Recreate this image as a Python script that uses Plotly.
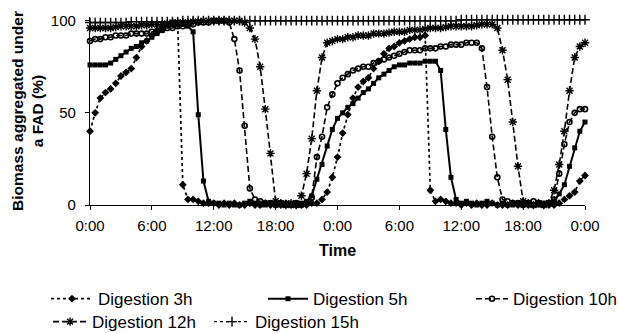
import plotly.graph_objects as go

# time axis: one reading every half hour over 48 h
hours = [i * 0.5 for i in range(97)]
tick_hours = [0, 6, 12, 18, 24, 30, 36, 42, 48]
tick_labels = ["0:00", "6:00", "12:00", "18:00", "0:00", "6:00", "12:00", "18:00", "0:00"]

dig3 = [40, 50, 58, 61, 63, 66, 70, 72, 74, 80, 86, 89,
        92, 95, 97, 98, 99, 99, 11, 3, 3, 2, 1, 1,
        1, 0, 1, 0, 1, 0, 0, 1, 0, 0, 1, 0,
        0, 0, 1, 0, 0, 0, 0, 1, 1, 3, 7, 15,
        26, 39, 49, 58, 64, 67, 69, 74, 78, 82, 85, 86,
        88, 89, 90, 91, 91, 92, 8, 2, 3, 2, 1, 1,
        0, 1, 0, 1, 0, 0, 1, 0, 0, 0, 1, 0,
        0, 0, 0, 1, 0, 0, 0, 1, 3, 5, 7, 13,
        16]

dig5 = [76, 76, 76, 76, 77, 79, 81, 83, 85, 86, 88, 89,
        91, 93, 95, 97, 98, 98, 98, 97, 94, 49, 13, 2,
        1, 1, 0, 1, 0, 0, 1, 2, 1, 0, 0, 1,
        0, 0, 0, 1, 0, 1, 2, 5, 14, 22, 32, 41,
        47, 50, 53, 55, 58, 61, 63, 66, 69, 71, 73, 75,
        76, 76, 77, 77, 77, 78, 78, 78, 73, 41, 15, 3,
        1, 2, 1, 0, 1, 2, 1, 0, 1, 0, 0, 1,
        0, 1, 0, 0, 1, 1, 2, 6, 11, 21, 31, 40,
        45]

dig10 = [89, 90, 90, 91, 91, 92, 92, 92, 93, 93, 93, 93,
         94, 94, 95, 96, 96, 97, 97, 98, 98, 99, 99, 99,
         100, 100, 100, 99, 90, 73, 43, 9, 3, 2, 1, 1,
         0, 1, 0, 0, 1, 0, 1, 4, 26, 37, 53, 60,
         66, 69, 71, 73, 74, 75, 75, 77, 78, 79, 80, 81,
         82, 83, 84, 84, 84, 85, 85, 85, 86, 86, 87, 87,
         87, 88, 88, 88, 85, 64, 37, 15, 3, 2, 1, 1,
         0, 1, 2, 1, 0, 1, 3, 17, 33, 45, 50, 52,
         52]

dig12 = [96, 96, 96, 96, 96, 96.5, 97, 97, 97, 97, 97.5, 97.5,
         98, 98, 98, 98.5, 99, 99, 99, 99, 99.5, 99.5, 100, 100,
         100, 100, 100, 100, 100, 100, 99, 96, 90, 75, 52, 28,
         2, 1, 0, 1, 0, 5, 17, 36, 62, 80, 88, 89,
         90, 90, 91, 91, 92, 92, 92, 93, 93, 93, 93.5, 94,
         94, 94, 95, 95, 95, 95.5, 96, 96, 96, 96.5, 97, 97,
         97, 97, 97, 97.5, 98, 98, 98, 96, 84, 68, 45, 21,
         2, 1, 0, 1, 0, 1, 8, 22, 40, 62, 80, 86,
         88]

dig15 = [99, 99, 99, 99, 99, 99, 99, 99, 99.5, 99.5, 99.5, 99.5,
         99.5, 99.5, 99.5, 99.5, 99.5, 99.5, 100, 100, 100, 100, 100, 100,
         100, 100, 100, 100, 100, 100, 100, 100, 100, 100, 100, 100,
         100, 100, 100, 100, 100, 100, 100, 100, 100, 100, 100, 100,
         100, 100, 100, 100, 100, 100, 100, 100, 100, 100, 100, 100,
         100, 100, 100, 100, 100, 100, 100, 100, 100, 100, 100, 100,
         100.5, 100.5, 100.5, 100.5, 100.5, 100.5, 100.5, 100.5, 100.5, 100.5, 100.5, 100.5,
         100.5, 100.5, 100.5, 100.5, 100.5, 100.5, 100.5, 100.5, 100.5, 100.5, 100.5, 100.5,
         100.5]

series_names = ["Digestion 3h", "Digestion 5h", "Digestion 10h", "Digestion 12h", "Digestion 15h"]
series_values = [dig3, dig5, dig10, dig12, dig15]

styles = [
    dict(dash="dot", width=1.7, symbol="diamond", size=6, lw=0),
    dict(dash="solid", width=2.0, symbol="square", size=5, lw=0),
    dict(dash="6px,3px", width=1.6, symbol="circle-open", size=5, lw=1.6),
    dict(dash="6px,3px", width=1.6, symbol="asterisk-open", size=7, lw=1.4),
    dict(dash="dot", width=1.3, symbol="cross-thin-open", size=7, lw=1.4),
]

# one legend box per entry: (x paper, y paper, sample width)
legend_ids = ["legend", "legend2", "legend3", "legend4", "legend5"]
legend_pos = [(-0.0889, -0.405, 42), (0.3495, -0.405, 40), (0.7697, -0.405, 32),
              (-0.0848, -0.527, 34), (0.2404, -0.527, 36)]

fig = go.Figure()
for name, vals, st, lid in zip(series_names, series_values, styles, legend_ids):
    fig.add_trace(go.Scatter(
        x=hours, y=vals, name=name, mode="lines+markers",
        line=dict(color="black", width=st["width"], dash=st["dash"]),
        marker=dict(color="black", symbol=st["symbol"], size=st["size"],
                    line=dict(color="black", width=st["lw"])),
        cliponaxis=False, legend=lid,
    ))

font_family = "Liberation Sans, Arial, sans-serif"
layout_legends = {}
for lid, (lx, ly, iw) in zip(legend_ids, legend_pos):
    layout_legends[lid] = dict(orientation="h", x=lx, y=ly, xanchor="left", yanchor="top",
                               itemwidth=iw, font=dict(size=17), bgcolor="rgba(0,0,0,0)")

fig.update_layout(
    width=618, height=333,
    margin=dict(l=90, r=33, t=17, b=128, autoexpand=False),
    paper_bgcolor="white", plot_bgcolor="white",
    font=dict(family=font_family, size=15, color="black"),
    showlegend=True,
    **layout_legends,
)
fig.update_xaxes(
    range=[0, 48], tickvals=tick_hours, ticktext=tick_labels,
    showline=True, linecolor="black", linewidth=1.2,
    ticks="outside", ticklen=4, tickcolor="black", ticklabelstandoff=3,
    showgrid=False, zeroline=False,
    title=dict(text="<b>Time</b>", font=dict(size=16), standoff=11),
)
fig.update_yaxes(
    range=[0, 102], tickvals=[0, 50, 100],
    showline=True, linecolor="black", linewidth=1.2,
    ticks="outside", ticklen=4, tickcolor="black", ticklabelstandoff=6,
    showgrid=False, zeroline=False,
    title=dict(text="<b>Biomass aggregated under<br>a FAD (%)</b>", font=dict(size=15.5), standoff=3),
)

fig.write_html("out.html")
